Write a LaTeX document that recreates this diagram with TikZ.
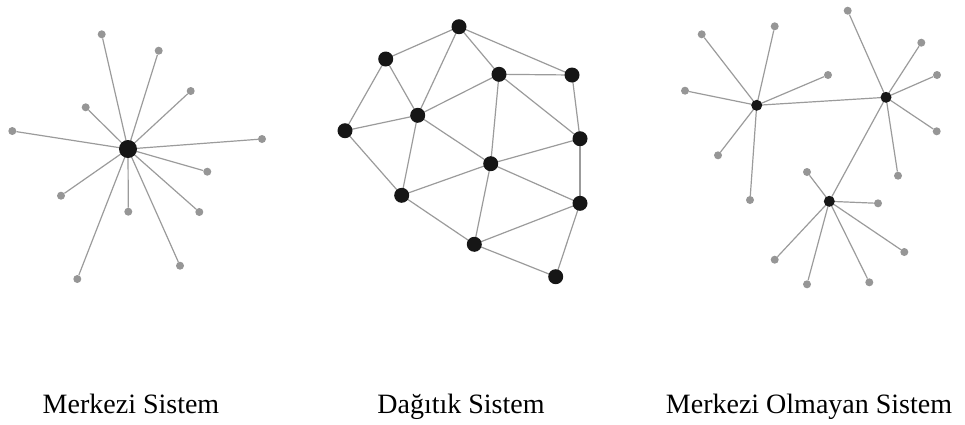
\documentclass[tikz,border=0pt]{standalone}
\usepackage{fontspec}
\setmainfont{Liberation Serif}
\definecolor{edgegray}{RGB}{155,155,155}
\definecolor{leafgray}{RGB}{150,150,150}
\definecolor{hubblack}{RGB}{22,22,22}
\tikzset{
  x=1pt, y=-1pt,
  link/.style={draw=edgegray, line width=1.2pt},
  leaf/.style={circle, fill=leafgray, inner sep=0pt, minimum size=8pt},
  bighub/.style={circle, fill=hubblack, inner sep=0pt, minimum size=18pt},
  peer/.style={circle, fill=hubblack, inner sep=0pt, minimum size=15pt},
  smallhub/.style={circle, fill=hubblack, inner sep=0pt, minimum size=11pt},
  caption/.style={font=\fontsize{28}{32}\selectfont, anchor=base, inner sep=0pt}
}
\begin{document}
\begin{tikzpicture}
\useasboundingbox (0,0) rectangle (965,424);

% ---- Centralised: one hub with leaves ----
\coordinate (c0) at (128,149);
\foreach \n/\x/\y in {1/101.7/34.3, 2/158.7/50.7, 3/190.7/91, 4/85.7/107.3,
                      5/12.3/131, 6/262/139, 7/207.3/171.7, 8/61/195.7,
                      9/128.3/211.7, 10/199.3/212, 11/180/265.7, 12/77.3/279}
  \node[leaf] (c\n) at (\x,\y) {};
\foreach \n in {1,...,12}
  \draw[link] (c0) -- (c\n);
\node[bighub] (chub) at (c0) {};

% ---- Distributed: mesh of peers ----
\foreach \n/\x/\y in {A/459/26.7, B/385.7/59, C/499/74.3, D/572/75,
                      E/417.7/115.3, F/345/130.7, G/580/138.7, H/490.7/163.7,
                      I/401.7/195.3, J/580/203.3, K/474.3/244.3, L/555.7/276.7}
  \coordinate (d\n) at (\x,\y);
\foreach \a/\b in {A/B, A/E, A/C, A/D, B/E, B/F, C/D, C/E, C/H, C/G,
                   D/G, E/F, E/I, E/H, F/I, G/H, G/J, H/I, H/K, H/J,
                   I/K, J/K, J/L, K/L}
  \draw[link] (d\a) -- (d\b);
\foreach \n in {A,B,C,D,E,F,G,H,I,J,K,L}
  \node[peer] (p\n) at (d\n) {};

% ---- Decentralised: linked hubs, each with leaves ----
\coordinate (hP) at (756.7,105.3);
\coordinate (hQ) at (886,97.3);
\coordinate (hR) at (829.3,201.3);
\foreach \n/\x/\y in {1/701.7/34.3, 2/774.7/26.3, 3/828/75, 4/685/90.7,
                      5/718/155.3, 6/750/200}
  {\node[leaf] (P\n) at (\x,\y) {};
   \draw[link] (hP) -- (P\n);}
\foreach \n/\x/\y in {1/847.7/10.7, 2/921.3/42.7, 3/937/75, 4/936.7/131.3,
                      5/898/175.7}
  {\node[leaf] (Q\n) at (\x,\y) {};
   \draw[link] (hQ) -- (Q\n);}
\foreach \n/\x/\y in {1/807/172, 2/878/203.3, 3/904.3/252, 4/774.7/259.7,
                      5/807/284.3, 6/869.3/282.3}
  {\node[leaf] (R\n) at (\x,\y) {};
   \draw[link] (hR) -- (R\n);}
\draw[link] (hP) -- (hQ);
\draw[link] (hQ) -- (hR);
\node[smallhub] (nP) at (hP) {};
\node[smallhub] (nQ) at (hQ) {};
\node[smallhub] (nR) at (hR) {};

% ---- captions ----
\node[caption] (t1) at (131,413) {Merkezi Sistem};
\node[caption] (t2) at (461,413) {Dağıtık Sistem};
\node[caption] (t3) at (809,413) {Merkezi Olmayan Sistem};
\end{tikzpicture}
\end{document}
